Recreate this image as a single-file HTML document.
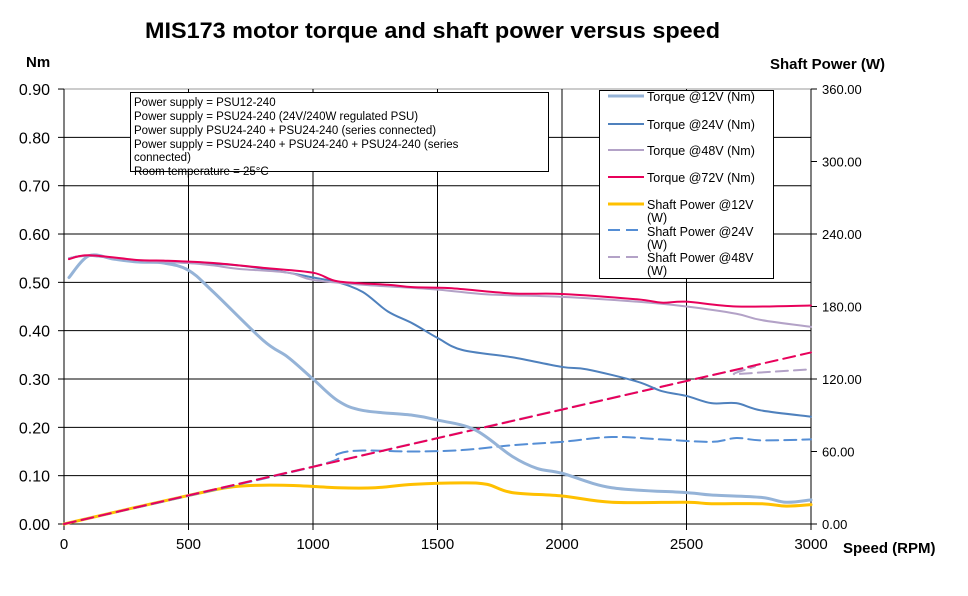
<!DOCTYPE html>
<html><head><meta charset="utf-8"><style>
body{margin:0;background:#fff}
svg text{font-family:"Liberation Sans",Arial,sans-serif}
</style></head><body>
<svg id="s" width="968" height="591" xmlns="http://www.w3.org/2000/svg">
<rect width="968" height="591" fill="#fff"/>
<text x="145" y="38" font-size="22" font-weight="bold" textLength="575" lengthAdjust="spacingAndGlyphs">MIS173 motor torque and shaft power versus speed</text>
<text x="26" y="67" font-size="15" font-weight="bold">Nm</text>
<text x="770" y="69" font-size="15" font-weight="bold">Shaft Power (W)</text>
<text x="843" y="553" font-size="15" font-weight="bold">Speed (RPM)</text>
<g id="grid"></g>
<g id="series" fill="none" stroke-linejoin="round" stroke-linecap="round"></g>
<rect x="130.5" y="92.5" width="418" height="79" fill="#fff" stroke="#000"/>
<g font-size="11.5">
<text x="134" y="106">Power supply = PSU12-240</text>
<text x="134" y="120">Power supply = PSU24-240 (24V/240W regulated PSU)</text>
<text x="134" y="134">Power supply PSU24-240 + PSU24-240 (series connected)</text>
<text x="134" y="148">Power supply = PSU24-240 + PSU24-240 + PSU24-240 (series</text>
<text x="134" y="161">connected)</text>
<text x="134" y="175">Room temperature = 25°C</text>
</g>
<rect x="599.5" y="90.5" width="174" height="188" fill="#fff" stroke="#000"/>
<g font-size="12.5">
<line x1="608" y1="96" x2="644" y2="96" stroke="#95B3D7" stroke-width="3"/>
<text x="647" y="101">Torque @12V (Nm)</text>
<line x1="608" y1="124" x2="644" y2="124" stroke="#4F81BD" stroke-width="2"/>
<text x="647" y="129">Torque @24V (Nm)</text>
<line x1="608" y1="150" x2="644" y2="150" stroke="#B3A2C7" stroke-width="2"/>
<text x="647" y="155">Torque @48V (Nm)</text>
<line x1="608" y1="177" x2="644" y2="177" stroke="#E8005A" stroke-width="2"/>
<text x="647" y="182">Torque @72V (Nm)</text>
<line x1="608" y1="204" x2="644" y2="204" stroke="#FFC000" stroke-width="3"/>
<text x="647" y="209">Shaft Power @12V</text><text x="647" y="222">(W)</text>
<line x1="608" y1="230" x2="644" y2="230" stroke="#558ED5" stroke-width="2" stroke-dasharray="12,6"/>
<text x="647" y="236">Shaft Power @24V</text><text x="647" y="249">(W)</text>
<line x1="608" y1="257" x2="644" y2="257" stroke="#B3A2C7" stroke-width="2" stroke-dasharray="12,6"/>
<text x="647" y="262">Shaft Power @48V</text><text x="647" y="275">(W)</text>
</g>
</svg>
<script>
var NS="http://www.w3.org/2000/svg";
function X(r){return 64+r*747/3000}
function Y(v){return 524-v*483.3}
function el(p,t,a,txt){var e=document.createElementNS(NS,t);for(var k in a)e.setAttribute(k,a[k]);if(txt!=null)e.textContent=txt;p.appendChild(e);return e}
var g=document.getElementById('grid');
for(var i=0;i<=9;i++){var y=Y(i/10);
 if(i>0)el(g,'line',{x1:64,x2:811,y1:y,y2:y,stroke:i==9?'#999':'#000','stroke-width':1});
 el(g,'line',{x1:58,x2:64,y1:y,y2:y,stroke:'#000'});
 el(g,'text',{x:50,y:y+6,'font-size':16,'text-anchor':'end'},(i/10).toFixed(2));}
for(var r=500;r<=3000;r+=500){el(g,'line',{x1:X(r),x2:X(r),y1:89,y2:524,stroke:r==3000?'#999':'#000'});}
for(var r=0;r<=3000;r+=500){el(g,'line',{x1:X(r),x2:X(r),y1:524,y2:530,stroke:'#000'});
 el(g,'text',{x:X(r),y:549,'font-size':15,'text-anchor':'middle'},String(r));}
for(var i=0;i<=6;i++){var p=i*60,y=524-p*435/360;
 el(g,'line',{x1:811,x2:817,y1:y,y2:y,stroke:'#000'});
 el(g,'text',{x:822,y:y+5,'font-size':13},p.toFixed(2));}
el(g,'line',{x1:64,x2:64,y1:89,y2:524,stroke:'#000'});
el(g,'line',{x1:64,x2:811,y1:524,y2:524,stroke:'#000'});
el(g,'line',{x1:811,x2:811,y1:89,y2:524,stroke:'#000'});
function path(pts){var P=pts.map(function(p){return[X(p[0]),Y(p[1])]});var d='M'+P[0][0]+','+P[0][1];
 for(var i=0;i<P.length-1;i++){var p0=P[i-1]||P[i],p1=P[i],p2=P[i+1],p3=P[i+2]||p2;
  d+=' C'+(p1[0]+(p2[0]-p0[0])/6)+','+(p1[1]+(p2[1]-p0[1])/6)+' '+(p2[0]-(p3[0]-p1[0])/6)+','+(p2[1]-(p3[1]-p1[1])/6)+' '+p2[0]+','+p2[1];}
 return d}
var s=document.getElementById('series');
function add(pts,c,w,dash){var a={d:path(pts),stroke:c,'stroke-width':w};if(dash)a['stroke-dasharray']=dash;el(s,'path',a)}
function diag(r){return r*0.355/3000}
add([[0,0],[500,diag(500)],[700,0.078],[900,0.08],[1100,0.075],[1250,0.075],[1400,0.082],[1600,0.085],[1700,0.082],[1800,0.065],[2000,0.058],[2200,0.045],[2500,0.045],[2600,0.042],[2800,0.042],[2900,0.037],[3000,0.04]],'#FFC000',3);
add([[0,0],[1000,diag(1000)],[1100,0.145],[1200,0.152],[1400,0.15],[1600,0.153],[1800,0.163],[2000,0.17],[2200,0.18],[2400,0.175],[2600,0.17],[2700,0.178],[2800,0.173],[3000,0.175]],'#558ED5',2,'12,6');
add([[0,0],[2550,diag(2550)],[2700,0.31],[3000,0.32]],'#B3A2C7',2,'12,6');
add([[0,0],[3000,0.355]],'#E8005A',2,'12,6');
add([[20,0.51],[100,0.555],[200,0.548],[300,0.542],[400,0.54],[500,0.525],[600,0.48],[800,0.38],[900,0.345],[1000,0.3],[1100,0.255],[1200,0.235],[1400,0.225],[1500,0.215],[1650,0.195],[1800,0.14],[1900,0.115],[2000,0.105],[2200,0.075],[2500,0.065],[2600,0.06],[2800,0.055],[2900,0.045],[3000,0.05]],'#95B3D7',3);
add([[20,0.55],[100,0.555],[300,0.545],[500,0.54],[700,0.535],[900,0.52],[1000,0.51],[1100,0.5],[1200,0.48],[1300,0.44],[1400,0.415],[1500,0.385],[1600,0.36],[1800,0.345],[2000,0.325],[2100,0.32],[2300,0.295],[2400,0.275],[2500,0.265],[2600,0.25],[2700,0.25],[2800,0.235],[3000,0.222]],'#4F81BD',2);
add([[20,0.55],[100,0.555],[300,0.545],[500,0.54],[600,0.535],[700,0.528],[900,0.52],[1000,0.505],[1200,0.495],[1500,0.485],[1700,0.475],[2000,0.47],[2300,0.46],[2500,0.45],[2700,0.435],[2800,0.422],[3000,0.408]],'#B3A2C7',2);
add([[20,0.548],[100,0.556],[300,0.546],[400,0.545],[600,0.54],[800,0.53],[1000,0.52],[1100,0.502],[1300,0.495],[1400,0.49],[1550,0.488],[1800,0.477],[2000,0.476],[2300,0.465],[2400,0.458],[2500,0.46],[2700,0.45],[3000,0.452]],'#E8005A',2);
</script>
</body></html>
